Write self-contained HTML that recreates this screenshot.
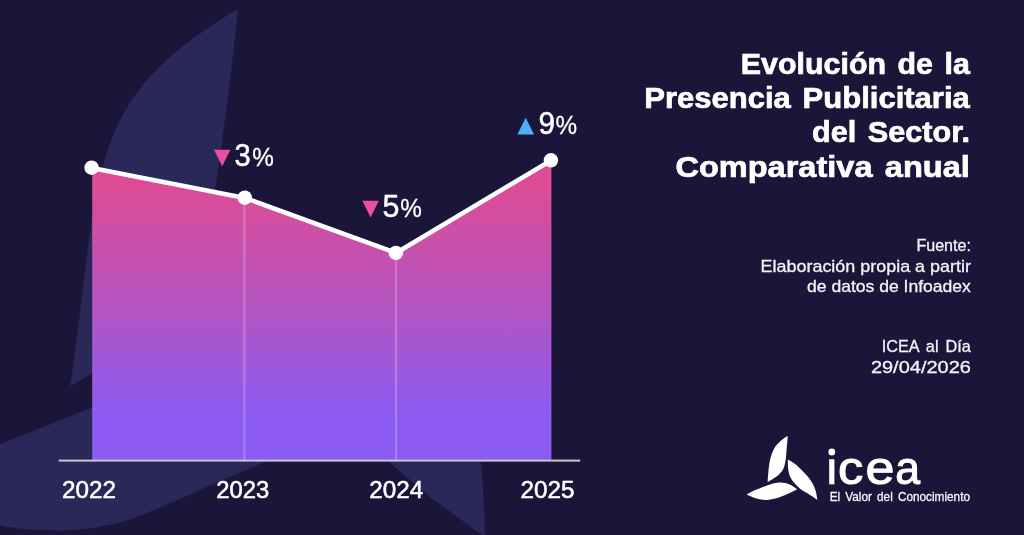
<!DOCTYPE html>
<html lang="es">
<head>
<meta charset="utf-8">
<title>Evolución de la Presencia Publicitaria del Sector</title>
<style>
html,body{margin:0;padding:0;}
body{width:1024px;height:535px;overflow:hidden;background:#1b1639;font-family:"Liberation Sans",sans-serif;}
svg{display:block;position:absolute;left:0;top:0;will-change:transform;}
text{font-family:"Liberation Sans",sans-serif;fill:#fff;}
.t{font-weight:bold;font-size:30px;word-spacing:3px;stroke:#fff;stroke-width:0.7px;}
.s{font-size:16.4px;fill:#f4f2f9;stroke:#f4f2f9;stroke-width:0.3px;}
.y{font-size:24.5px;stroke:#fff;stroke-width:0.55px;}
.n{font-size:31px;stroke:#fff;stroke-width:0.5px;}
.p{font-size:26px;stroke:#fff;stroke-width:0.3px;}
</style>
</head>
<body>
<svg width="1024" height="535" viewBox="0 0 1024 535">
<defs>
<linearGradient id="g" x1="0" y1="160" x2="0" y2="460" gradientUnits="userSpaceOnUse">
<stop offset="0" stop-color="#e54a8d"/>
<stop offset="0.5" stop-color="#b354c2"/>
<stop offset="0.86" stop-color="#8b5bf4"/>
<stop offset="1" stop-color="#8b5bf4"/>
</linearGradient>
</defs>
<rect width="1024" height="535" fill="#1b1639"/>
<!-- watermark -->
<g fill="#2a2759">
<path d="M238,9 C85.5,100.2 102.3,160.2 70.4,386 L92,373.6 L214,300 L215.6,187 Q231,80 238,9 Z"/>
<path d="M300,446 C294.4,448.5 277.5,456.2 266.6,461.0 C255.7,465.8 244.7,470.6 234.4,475.0 C224.1,479.4 214.8,483.3 205.0,487.6 C195.2,491.9 185.6,496.6 175.8,500.8 C166.1,505.0 156.3,509.2 146.5,513.0 C136.7,516.8 129.4,520.5 117.2,523.3 C105.0,526.1 87.9,529.0 73.2,530.0 C58.6,531.0 41.5,530.0 29.3,529.2 C17.1,528.4 6.9,526.4 0.0,525.4 C-6.9,524.4 -10.0,523.4 -12.0,523.0 L-12,449 L0,444.2 L92.3,407.6 L200,380 Z"/>
<path d="M340,380 L389.3,462.2 L431,497.7 L484.8,537 Q484,490 480.8,462.2 L470,400 Z"/>
</g>
<!-- area -->
<path d="M92.2,167.9 L245,197.9 L396,252.9 L551.4,160.4 L551.4,460 L92.2,460 Z" fill="url(#g)"/>
<line x1="244.4" y1="200" x2="244.4" y2="460" stroke="#fff" stroke-opacity="0.22" stroke-width="2.3"/>
<line x1="396.1" y1="255" x2="396.1" y2="460" stroke="#fff" stroke-opacity="0.22" stroke-width="2.3"/>
<rect x="58.6" y="459.6" width="521.6" height="2" fill="#c9c7cd"/>
<polyline points="92,167.9 245,197.9 396,252.9 551,160.4" fill="none" stroke="#fff" stroke-width="4.6" stroke-linejoin="round" stroke-linecap="round"/>
<circle cx="91.6" cy="167.7" r="7.2" fill="#fff"/>
<circle cx="244.8" cy="197.7" r="7.2" fill="#fff"/>
<circle cx="395.9" cy="252.9" r="7.2" fill="#fff"/>
<circle cx="550.9" cy="160.3" r="7.2" fill="#fff"/>
<!-- labels -->
<path d="M214,149.7 L230.4,149.7 L222.2,166.2 Z" fill="#ec4f9e"/>
<text class="n" x="234.4" y="165.7" textLength="16.2" lengthAdjust="spacingAndGlyphs">3</text>
<text class="p" x="252.2" y="165.9" textLength="21.6" lengthAdjust="spacingAndGlyphs">%</text>
<path d="M362.4,200.7 L378.8,200.7 L370.6,217.4 Z" fill="#ec4f9e"/>
<text class="n" x="382.6" y="217.2" textLength="16.9" lengthAdjust="spacingAndGlyphs">5</text>
<text class="p" x="400.3" y="217.4" textLength="21.6" lengthAdjust="spacingAndGlyphs">%</text>
<path d="M517.3,134.4 L534.1,134.4 L525.7,117.7 Z" fill="#4cb0ff"/>
<text class="n" x="538.4" y="134.0" textLength="16.6" lengthAdjust="spacingAndGlyphs">9</text>
<text class="p" x="555.6" y="134.0" textLength="21.6" lengthAdjust="spacingAndGlyphs">%</text>
<!-- years -->
<text class="y" x="62" y="498.1" textLength="54" lengthAdjust="spacingAndGlyphs">2022</text>
<text class="y" x="216.3" y="498.1" textLength="53" lengthAdjust="spacingAndGlyphs">2023</text>
<text class="y" x="369.2" y="498.1" textLength="54" lengthAdjust="spacingAndGlyphs">2024</text>
<text class="y" x="520.5" y="498.1" textLength="54" lengthAdjust="spacingAndGlyphs">2025</text>
<!-- title -->
<text class="t" x="740.8" y="73.8" textLength="229" lengthAdjust="spacingAndGlyphs">Evolución de la</text>
<text class="t" x="644.3" y="108" textLength="325.5" lengthAdjust="spacingAndGlyphs">Presencia Publicitaria</text>
<text class="t" x="812" y="142.2" textLength="158" lengthAdjust="spacingAndGlyphs">del Sector.</text>
<text class="t" x="675.4" y="176.5" textLength="294.4" lengthAdjust="spacingAndGlyphs">Comparativa anual</text>
<!-- source -->
<text class="s" x="916.4" y="251.0" textLength="54.5" lengthAdjust="spacingAndGlyphs">Fuente:</text>
<text class="s" x="760.6" y="271.9" textLength="210.3" lengthAdjust="spacingAndGlyphs">Elaboración propia a partir</text>
<text class="s" x="807" y="291.6" textLength="163.9" lengthAdjust="spacingAndGlyphs">de datos de Infoadex</text>
<text class="s" x="881.7" y="351.9" textLength="89.2" lengthAdjust="spacingAndGlyphs" word-spacing="2.5">ICEA al Día</text>
<text class="s" x="870.9" y="372.8" textLength="100" lengthAdjust="spacingAndGlyphs">29/04/2026</text>
<!-- logo -->
<g fill="#fff">
<path d="M787.8,436.0 C786.9,436.6 784.4,437.7 782.4,439.4 C780.4,441.1 777.6,443.3 775.7,446.1 C773.8,448.9 772.1,452.7 771.0,456.2 C769.9,459.7 769.5,462.7 768.9,467.0 C768.3,471.3 767.8,479.6 767.6,482.1 C769.0,481.3 773.2,479.1 775.7,477.1 C778.2,475.2 780.8,472.8 782.4,470.4 C784.0,468.0 784.4,466.0 785.1,463.0 C785.8,460.0 786.0,456.7 786.4,452.2 C786.8,447.7 787.6,438.7 787.8,436.0 Z"/>
<path d="M787.8,459.6 C788.9,460.3 792.0,461.7 794.5,463.6 C797.0,465.5 799.9,468.3 802.6,471.1 C805.3,473.9 808.6,477.4 810.7,480.5 C812.8,483.6 814.3,486.6 815.4,489.9 C816.5,493.1 817.1,498.3 817.4,500.0 C816.0,499.1 812.2,496.5 809.3,494.6 C806.4,492.7 802.8,491.1 799.9,488.6 C797.0,486.1 793.7,482.7 791.8,479.8 C789.9,476.9 789.2,474.5 788.5,471.1 C787.8,467.7 787.9,461.5 787.8,459.6 Z"/>
<path d="M746.7,494.6 C747.9,493.9 751.5,491.8 754.1,490.6 C756.7,489.4 759.3,488.3 762.2,487.2 C765.1,486.1 768.5,484.7 771.6,483.9 C774.8,483.1 778.2,482.4 781.1,482.5 C784.0,482.6 786.4,483.2 789.1,484.3 C791.8,485.4 795.9,488.4 797.2,489.2 C795.9,489.9 792.0,491.9 789.1,493.3 C786.2,494.7 783.1,496.2 779.7,497.3 C776.3,498.4 772.5,499.4 768.9,499.7 C765.3,500.0 761.9,500.0 758.2,499.1 C754.5,498.2 748.6,495.4 746.7,494.6 Z"/>
</g>
<circle cx="831.8" cy="452" r="3.4" fill="#fff"/>
<rect x="829.2" y="459.2" width="5.2" height="25.1" fill="#fff"/>
<g font-size="47" stroke="#fff" stroke-width="1.1">
<text x="838" y="484" textLength="25.3" lengthAdjust="spacingAndGlyphs">c</text>
<text x="865.4" y="484" textLength="28.9" lengthAdjust="spacingAndGlyphs">e</text>
<text x="895.2" y="484" textLength="24.8" lengthAdjust="spacingAndGlyphs">a</text>
</g>
<text x="829.7" y="501.3" font-size="12.8" textLength="140.3" lengthAdjust="spacingAndGlyphs" word-spacing="2" fill="#eceaf2" stroke="#eceaf2" stroke-width="0.3">El Valor del Conocimiento</text>
</svg>
</body>
</html>
